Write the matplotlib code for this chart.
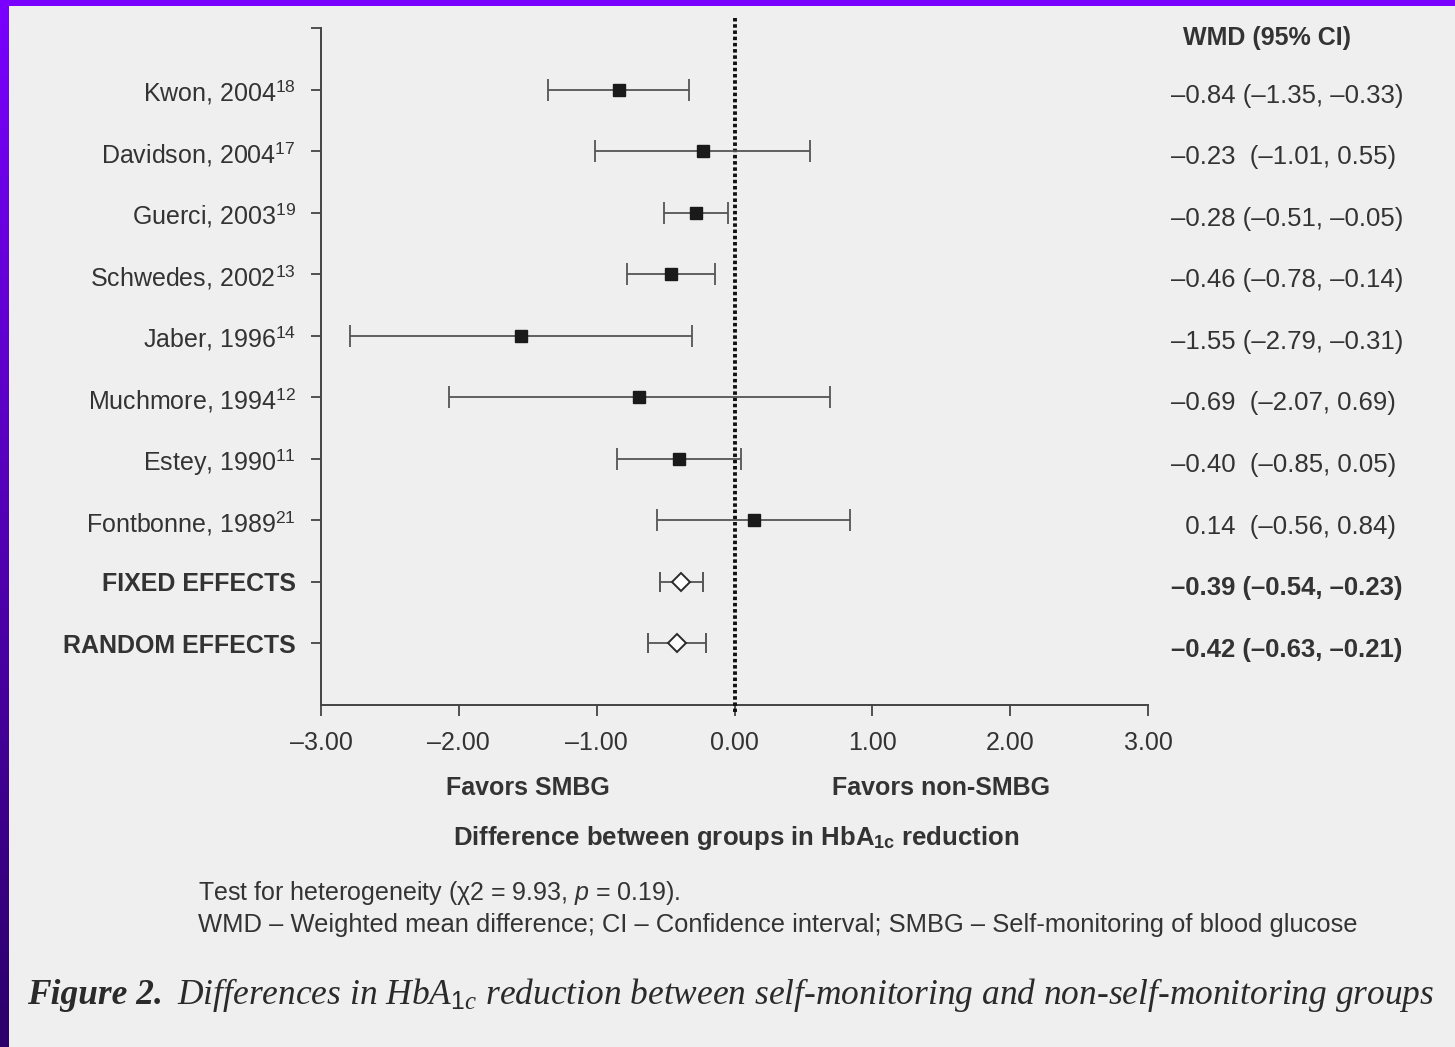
import matplotlib
matplotlib.use('Agg')
import matplotlib.pyplot as plt
import numpy as np
from matplotlib.colors import LinearSegmentedColormap

# ---------------- data ----------------
studies = ["Kwon, 2004", "Davidson, 2004", "Guerci, 2003", "Schwedes, 2002",
           "Jaber, 1996", "Muchmore, 1994", "Estey, 1990", "Fontbonne, 1989",
           "FIXED EFFECTS", "RANDOM EFFECTS"]
refs = ["18", "17", "19", "13", "14", "12", "11", "21", "", ""]
wmd = [-0.84, -0.23, -0.28, -0.46, -1.55, -0.69, -0.40, 0.14, -0.39, -0.42]
ci_low = [-1.35, -1.01, -0.51, -0.78, -2.79, -2.07, -0.85, -0.56, -0.54, -0.63]
ci_high = [-0.33, 0.55, -0.05, -0.14, -0.31, 0.69, 0.05, 0.84, -0.23, -0.21]
pooled = [False] * 8 + [True] * 2
xticks = [-3, -2, -1, 0, 1, 2, 3]
xticklabels = ["–3.00", "–2.00", "–1.00", "0.00", "1.00", "2.00", "3.00"]

# ---------------- style ----------------
TXT = '#333333'
BG = '#efefef'
FS = 18
plt.rcParams['font.family'] = ['Liberation Sans', 'DejaVu Sans']
plt.rcParams['mathtext.fontset'] = 'custom'
plt.rcParams['mathtext.rm'] = 'Liberation Sans'
plt.rcParams['mathtext.bf'] = 'Liberation Sans:bold'
plt.rcParams['mathtext.sf'] = 'Liberation Sans:italic'
plt.rcParams['mathtext.it'] = 'Liberation Serif:italic'

W, H = 1455, 1047
fig = plt.figure(figsize=(W / 100, H / 100), dpi=100, facecolor=BG)

# decorative frame (purple gradient at left, purple band at top)
lax = fig.add_axes([0, 0, 9 / W, 1])
grad = np.linspace(0, 1, 256).reshape(-1, 1)
cmap = LinearSegmentedColormap.from_list('pp', ['#7a00ff', '#2b006a'])
lax.imshow(grad, aspect='auto', cmap=cmap, extent=[0, 1, 0, 1], origin='upper')
lax.set_axis_off()
tax = fig.add_axes([0, 1 - 6 / H, 1, 6 / H])
tax.set_facecolor('#7a00ff')
tax.set_xticks([]); tax.set_yticks([])
for s in tax.spines.values():
    s.set_visible(False)

# main axes
x0, x1 = 321, 1148
ytop, ybot = 28, 705
ax = fig.add_axes([x0 / W, 1 - ybot / H, (x1 - x0) / W, (ybot - ytop) / H])
ax.set_facecolor('none')
n = len(studies)
ax.set_xlim(-3, 3)
ax.set_ylim(n + 1, 0)

ys = np.arange(1, n + 1)
for i in range(n):
    m = wmd[i]
    err = [[m - ci_low[i]], [ci_high[i] - m]]
    if pooled[i]:
        ax.errorbar(m, ys[i], xerr=err, fmt='D', ms=9, mfc='white', mec='#2a2a2a',
                    mew=1.4, ecolor='#555555', elinewidth=1.3, capsize=7.5,
                    capthick=1.3, zorder=4)
    else:
        ax.errorbar(m, ys[i], xerr=err, fmt='s', ms=8.5, mfc='#1a1a1a', mec='#1a1a1a',
                    ecolor='#555555', elinewidth=1.3, capsize=8, capthick=1.3, zorder=4)

# zero line (dotted, extends beyond axes)
ax.plot([0, 0], [-0.16, n + 1.12], color='#111111', lw=2.8,
        linestyle=(0, (0.9, 0.7)), clip_on=False, zorder=3)

for s in ['top', 'right']:
    ax.spines[s].set_visible(False)
for s in ['left', 'bottom']:
    ax.spines[s].set_color('#444444')
    ax.spines[s].set_linewidth(1.4)

ax.set_xticks(xticks)
ax.set_xticklabels(xticklabels)
ax.tick_params(axis='x', direction='out', length=8, width=1.3, color='#444444',
               pad=11, labelsize=FS, labelcolor=TXT)

ylabels = [''] + [s + (r'$^{%s}$' % r if r else '') for s, r in zip(studies, refs)]
ax.set_yticks(np.arange(0, n + 1))
ax.set_yticklabels(ylabels)
ax.tick_params(axis='y', direction='out', length=7, width=1.3, color='#444444',
               pad=11, labelsize=FS, labelcolor=TXT)
for lab, p in zip(ax.get_yticklabels()[1:], pooled):
    if p:
        lab.set_fontweight('bold')

# right column
def fmt(v):
    return f"{v:.2f}".replace('-', '–')

ax.text(3.255, 0.16, "WMD (95% CI)", fontsize=FS, fontweight='bold', color=TXT,
        ha='left', va='center', clip_on=False)
for i in range(n):
    lead = "  " if wmd[i] >= 0 else ""
    gap = "  " if ci_high[i] >= 0 else " "
    s = f"{lead}{fmt(wmd[i])}{gap}({fmt(ci_low[i])}, {fmt(ci_high[i])})"
    ax.text(3.17, ys[i] + 0.1, s, fontsize=FS + 0.5, color=TXT,
            fontweight='bold' if pooled[i] else 'normal',
            ha='left', va='center', clip_on=False)

# favors labels and x-axis title
fig.text((734.5 - 1.5 * 137.8) / W, 1 - 788 / H, "Favors SMBG", fontsize=FS,
         fontweight='bold', color=TXT, ha='center', va='center')
fig.text((734.5 + 1.5 * 137.8) / W, 1 - 788 / H, "Favors non-SMBG", fontsize=FS,
         fontweight='bold', color=TXT, ha='center', va='center')
fig.text(736 / W, 1 - 838 / H, r"Difference between groups in HbA$_{\mathbf{1c}}$ reduction",
         fontsize=FS + 0.5, fontweight='bold', color=TXT, ha='center', va='center')

# footnotes
fig.text(198 / W, 1 - 893 / H, r"Test for heterogeneity (χ2 = 9.93, $\mathsf{p}$ = 0.19).",
         fontsize=18, color=TXT, ha='left', va='center')
fig.text(198 / W, 1 - 925 / H,
         "WMD – Weighted mean difference; CI – Confidence interval; SMBG – Self-monitoring of blood glucose",
         fontsize=18.4, color=TXT, ha='left', va='center')

# caption
CFS = 25.5
t1 = fig.text(27 / W, 1 - 995 / H, "Figure 2.", fontsize=CFS, family='Liberation Serif',
              style='italic', fontweight='bold', color='#2a2a2a', ha='left', va='center')
fig.canvas.draw()
bb = t1.get_window_extent()
fig.text((bb.x1 + 14) / W, 1 - 995 / H,
         r"Differences in HbA$_{\mathit{1c}}$ reduction between self-monitoring and non-self-monitoring groups",
         fontsize=CFS, family='Liberation Serif', style='italic', color='#2a2a2a',
         ha='left', va='center')

fig.savefig('out.png', dpi=100, facecolor=BG)
